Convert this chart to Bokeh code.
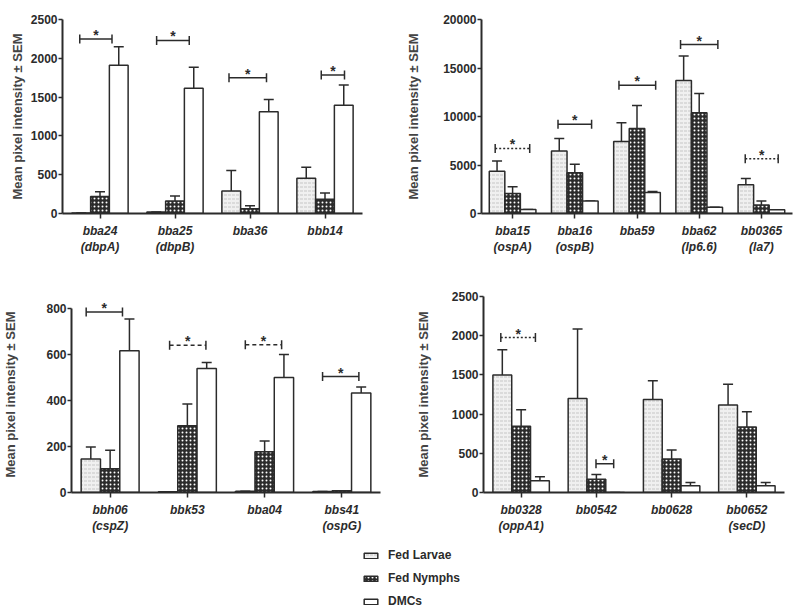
import math
from bokeh.plotting import figure
from bokeh.models import ColumnDataSource, FactorRange, SingleIntervalTicker, Legend, LegendItem, Range1d
from bokeh.transform import dodge
from bokeh.layouts import column, row
from bokeh.core.properties import value
from bokeh.embed import file_html
from bokeh.resources import INLINE

SERIES = ["Fed Larvae", "Fed Nymphs", "DMCs"]
Y_LABEL = "Mean pixel intensity \u00b1 SEM"

# ---- Panel A (top left)
genes_a = ["bba24\n(dbpA)", "bba25\n(dbpB)", "bba36", "bbb14"]
larvae_a = [5, 20, 290, 455]
larvae_sem_a = [0, 0, 265, 140]
nymph_a = [220, 160, 60, 185]
nymph_sem_a = [60, 65, 40, 80]
dmc_a = [1910, 1615, 1310, 1395]
dmc_sem_a = [240, 270, 160, 260]
sig_gene_a = [0, 1, 2, 3]
sig_from_a = [-0.27, -0.245, -0.28, -0.05]
sig_to_a = [0.16, 0.19, 0.22, 0.26]
sig_y_a = [2250, 2230, 1750, 1785]
sig_dashed_a = [False, False, False, False]

# ---- Panel B (top right)
genes_b = ["bba15\n(ospA)", "bba16\n(ospB)", "bba59", "bba62\n(lp6.6)", "bb0365\n(la7)"]
larvae_b = [4350, 6450, 7420, 13710, 2970]
larvae_sem_b = [1070, 1290, 1935, 2515, 645]
nymph_b = [2065, 4195, 8775, 10390, 870]
nymph_sem_b = [680, 870, 2355, 1970, 420]
dmc_b = [420, 1290, 2160, 645, 390]
dmc_sem_b = [0, 0, 100, 0, 0]
sig_gene_b = [0, 1, 2, 3, 4]
sig_from_b = [-0.28, -0.27, -0.29, -0.30, -0.26]
sig_to_b = [0.275, 0.27, 0.30, 0.30, 0.27]
sig_y_b = [6710, 9190, 13230, 17420, 5645]
sig_dashed_b = [True, False, False, False, True]

# ---- Panel C (bottom left)
genes_c = ["bbh06\n(cspZ)", "bbk53", "bba04", "bbs41\n(ospG)"]
larvae_c = [145, 3, 5, 4]
larvae_sem_c = [52, 0, 0, 0]
nymph_c = [103, 290, 177, 8]
nymph_sem_c = [80, 94, 46, 0]
dmc_c = [615, 538, 499, 432]
dmc_sem_c = [137, 26, 100, 26]
sig_gene_c = [0, 1, 2, 3]
sig_from_c = [-0.31, -0.23, -0.25, -0.25]
sig_to_c = [0.16, 0.24, 0.22, 0.22]
sig_y_c = [783, 639, 641, 503]
sig_dashed_c = [False, True, True, False]

# ---- Panel D (bottom right)
genes_d = ["bb0328\n(oppA1)", "bb0542", "bb0628", "bb0652\n(secD)"]
larvae_d = [1500, 1200, 1185, 1115]
larvae_sem_d = [320, 885, 240, 265]
nymph_d = [845, 170, 428, 836]
nymph_sem_d = [210, 60, 115, 195]
dmc_d = [150, 0, 87, 87]
dmc_sem_d = [50, 0, 40, 40]
sig_gene_d = [0, 1]
sig_from_d = [-0.27, -0.005]
sig_to_d = [0.19, 0.23]
sig_y_d = [1976, 366]
sig_dashed_d = [True, False]

FONT = "Liberation Sans"
INK = "#2b2b2b"
STYLES = {
    "Fed Larvae": dict(fill_color="#f0f0f0", hatch_pattern="horizontal_dash",
                       hatch_color="#c6c6c6", hatch_scale=4, hatch_weight=1),
    "Fed Nymphs": dict(fill_color="#2b2b2b", hatch_pattern="dot",
                       hatch_color="white", hatch_scale=4, hatch_weight=2),
    "DMCs": dict(fill_color="white"),
}
OFFSETS = [-0.25, 0.0, 0.25]
BAR_W = 0.25


def make_panel(genes, means, sems, ymax, yview, step, sig, width, height, borders,
               lab_standoff, dash_pattern):
    left, right, top, bottom = borders
    p = figure(width=width, height=height, x_range=FactorRange(*genes),
               y_range=Range1d(0, yview),
               output_backend="svg", toolbar_location=None,
               min_border_left=left, min_border_right=right,
               min_border_top=top, min_border_bottom=bottom)
    p.outline_line_color = None
    p.xgrid.visible = False
    p.ygrid.visible = False
    p.background_fill_color = None
    p.border_fill_color = None

    for name, off, m, s in zip(SERIES, OFFSETS, means, sems):
        src = ColumnDataSource(dict(gene=genes, mean=m, top=[a + b for a, b in zip(m, s)]))
        xd = dodge("gene", off, range=p.x_range)
        p.segment(x0=xd, y0="mean", x1=xd, y1="top", source=src, line_color=INK, line_width=1.5)
        p.dash(x=xd, y="top", size=10, line_color=INK, line_width=1.5, source=src)
        p.vbar(x=xd, top="mean", bottom=0, width=BAR_W, source=src,
               line_color=INK, line_width=1.5, **STYLES[name])

    g_idx, x0s, x1s, ys, dashed = sig
    for want, dash in ((False, "solid"), (True, dash_pattern)):
        rows_ = [i for i, d in enumerate(dashed) if d == want]
        if not rows_:
            continue
        bsrc = ColumnDataSource(dict(
            x0=[(genes[g_idx[i]], x0s[i]) for i in rows_],
            x1=[(genes[g_idx[i]], x1s[i]) for i in rows_],
            xm=[(genes[g_idx[i]], (x0s[i] + x1s[i]) / 2) for i in rows_],
            y=[ys[i] for i in rows_],
        ))
        p.segment(x0="x0", y0="y", x1="x1", y1="y", source=bsrc,
                  line_color=INK, line_width=1.5, line_dash=dash)
        p.dash(x="x0", y="y", size=9, angle=math.pi / 2, source=bsrc, line_color=INK, line_width=1.5)
        p.dash(x="x1", y="y", size=9, angle=math.pi / 2, source=bsrc, line_color=INK, line_width=1.5)
        p.text(x="xm", y="y", text=value("*"), source=bsrc, text_font=value(FONT),
               text_font_size="14px", text_font_style="bold", text_color=INK,
               text_align="center", text_baseline="alphabetic", y_offset=-4)

    xa = p.xaxis[0]
    xa.axis_line_width = 2
    xa.axis_line_color = INK
    xa.major_tick_out = 5
    xa.major_tick_in = 0
    xa.major_tick_line_width = 1.5
    xa.major_tick_line_color = INK
    xa.minor_tick_line_color = None
    xa.major_label_text_font = FONT
    xa.major_label_text_font_size = "12px"
    xa.major_label_text_font_style = "bold italic"
    xa.major_label_text_color = INK
    xa.major_label_standoff = 5

    ya = p.yaxis[0]
    ya.ticker = SingleIntervalTicker(interval=step, num_minor_ticks=0)
    ya.bounds = (0, ymax)
    ya.axis_line_width = 2
    ya.axis_line_color = INK
    ya.major_tick_out = 4
    ya.major_tick_in = 0
    ya.major_tick_line_width = 1.5
    ya.major_tick_line_color = INK
    ya.minor_tick_line_color = None
    ya.major_label_text_font = FONT
    ya.major_label_text_font_size = "12px"
    ya.major_label_text_font_style = "bold"
    ya.major_label_text_color = INK
    ya.major_label_standoff = 1
    ya.axis_label = Y_LABEL
    ya.axis_label_text_font = FONT
    ya.axis_label_text_font_size = "13px"
    ya.axis_label_text_font_style = "bold"
    ya.axis_label_text_color = "#444444"
    ya.axis_label_standoff = lab_standoff
    return p


p1 = make_panel(genes_a, [larvae_a, nymph_a, dmc_a], [larvae_sem_a, nymph_sem_a, dmc_sem_a],
                2500, 2500, 500, (sig_gene_a, sig_from_a, sig_to_a, sig_y_a, sig_dashed_a),
                400, 270, (62, 38, 19, 53), 3, "2 2")
p2 = make_panel(genes_b, [larvae_b, nymph_b, dmc_b], [larvae_sem_b, nymph_sem_b, dmc_sem_b],
                20000, 20000, 5000, (sig_gene_b, sig_from_b, sig_to_b, sig_y_b, sig_dashed_b),
                400, 270, (81, 8, 7, 57), 19, "2 2")
p3 = make_panel(genes_c, [larvae_c, nymph_c, dmc_c], [larvae_sem_c, nymph_sem_c, dmc_sem_c],
                800, 850, 200, (sig_gene_c, sig_from_c, sig_to_c, sig_y_c, sig_dashed_c),
                400, 270, (68, 20, 2, 48), 25, "4 3")
p4 = make_panel(genes_d, [larvae_d, nymph_d, dmc_d], [larvae_sem_d, nymph_sem_d, dmc_sem_d],
                2500, 2500, 500, (sig_gene_d, sig_from_d, sig_to_d, sig_y_d, sig_dashed_d),
                400, 270, (83, 16, 26, 44), 18, "2 2")

pl = figure(width=800, height=72, x_range=(0, 1), y_range=(0, 1), output_backend="svg",
            toolbar_location=None, min_border=0, x_axis_location=None, y_axis_location=None)
pl.outline_line_color = None
pl.grid.visible = False
items = []
for name in SERIES:
    r = pl.vbar(x=[0.5], top=[0.5], width=0.1, line_color=INK, line_width=1.5,
                visible=False, **STYLES[name])
    items.append(LegendItem(label=name, renderers=[r]))
leg = Legend(items=items, location=(362, 4), glyph_width=17, glyph_height=7,
             label_height=12, spacing=9, padding=0, margin=0, label_standoff=9,
             border_line_color=None, background_fill_alpha=0, inactive_fill_alpha=0,
             label_text_font=FONT, label_text_font_size="12px",
             label_text_font_style="bold", label_text_color=INK)
pl.add_layout(leg)

layout = column(row(p1, p2), row(p3, p4), pl)
open("out.html", "w").write(file_html(layout, INLINE))
